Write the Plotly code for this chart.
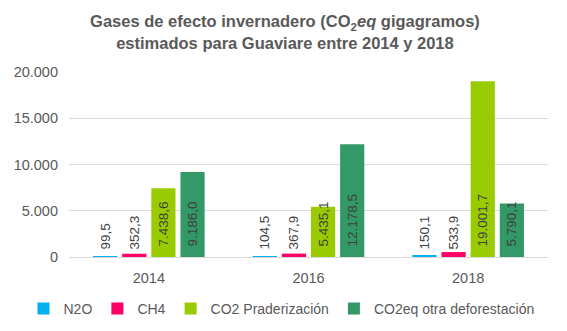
import plotly.graph_objects as go

years = ["2014", "2016", "2018"]
series_names = ["N2O", "CH4", "CO2 Praderización", "CO2eq otra deforestación"]
n2o = [99.5, 104.5, 150.1]
ch4 = [352.3, 367.9, 533.9]
co2_praderizacion = [7438.6, 5435.1, 19001.7]
co2eq_otra_deforestacion = [9186.0, 12178.5, 5790.1]
colors = ["#00B0F0", "#FF0066", "#99CC00", "#339966"]
y_ticks = [0, 5000, 10000, 15000, 20000]

fig = go.Figure()
for name, vals, col in zip(series_names, [n2o, ch4, co2_praderizacion, co2eq_otra_deforestacion], colors):
    fig.add_trace(go.Bar(
        x=years, y=vals, name=name, marker=dict(color=col, line=dict(width=0)),
        texttemplate="\u00a0\u00a0%{y:,.1f}",
        textposition="inside", insidetextanchor="start", textangle=-90,
        constraintext="none",
        textfont=dict(family="Liberation Sans, Arial, sans-serif", size=13.5, color="#404040"),
        hoverinfo="skip",
    ))

fig.update_layout(
    width=567, height=331,
    margin=dict(l=69, r=19, t=72, b=74, autoexpand=False),
    paper_bgcolor="white", plot_bgcolor="white",
    separators=",.",
    barmode="group", bargap=0.27, bargroupgap=0.17,
    font=dict(family="Liberation Sans, Arial, sans-serif", color="#595959", size=14),
    title=dict(
        text="<b>Gases de efecto invernadero (CO<sub>2</sub><i>eq</i> gigagramos)<br>estimados para Guaviare entre 2014 y 2018</b>",
        x=0.5026, xanchor="center", xref="container",
        y=0.918, yanchor="top", yref="container",
        font=dict(size=16.5, color="#595959"),
    ),
    showlegend=True,
    legend=dict(orientation="h", x=-0.095, xanchor="left", xref="paper",
                y=-0.28, yanchor="middle", yref="paper",
                font=dict(size=14, color="#595959"), itemclick=False,
                itemwidth=30, tracegroupgap=0),
    xaxis=dict(showline=True, linecolor="#D9D9D9", linewidth=1, ticks="",
               tickfont=dict(size=14.5), ticklabelstandoff=8, fixedrange=True),
    yaxis=dict(range=[0, 20000], tickvals=y_ticks, tickformat=",d",
               showgrid=True, gridcolor="#D9D9D9", gridwidth=1, zeroline=False,
               showline=False, ticks="", ticklabelstandoff=10,
               tickfont=dict(size=14.5), fixedrange=True),
)

fig.write_html("out.html")
